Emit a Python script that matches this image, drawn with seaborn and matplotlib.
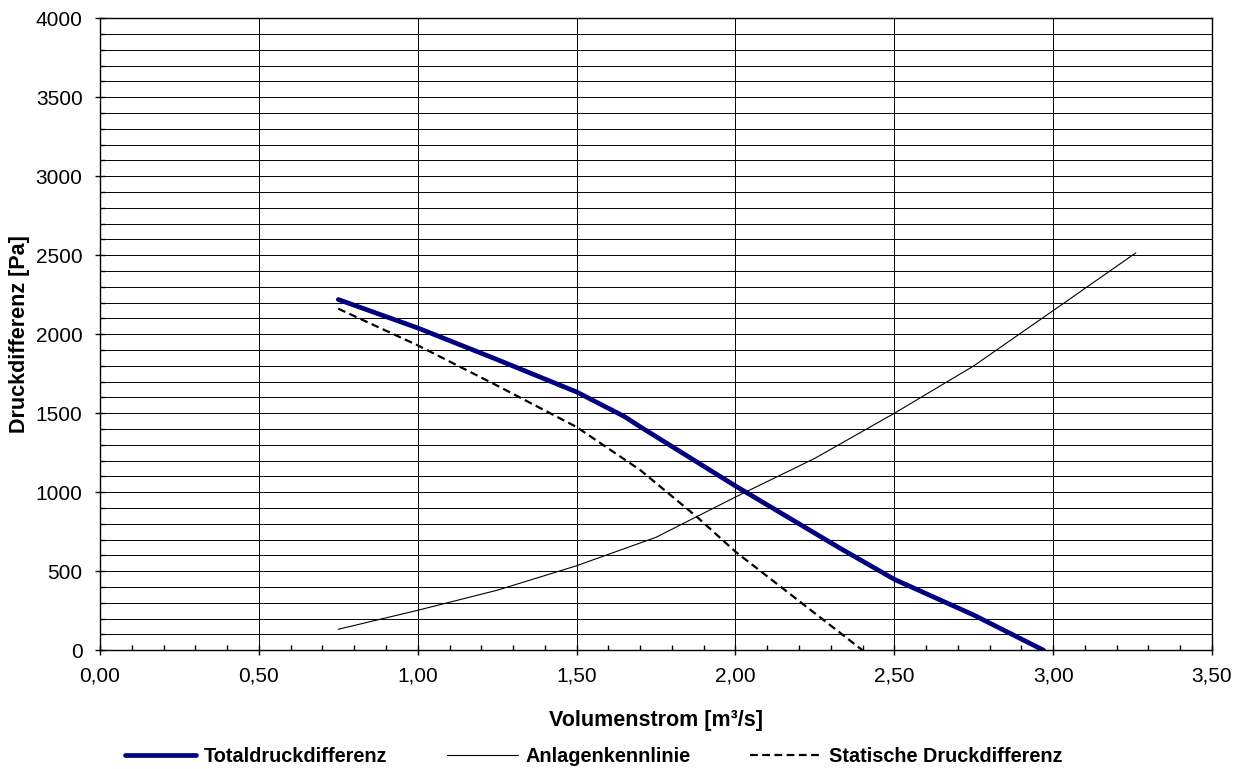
import matplotlib
matplotlib.use("Agg")
import matplotlib.pyplot as plt
from matplotlib.ticker import MultipleLocator, FuncFormatter
import pandas as pd
import seaborn as sns

# values
total_x = [0.75, 1.00, 1.25, 1.50, 1.65, 1.70, 2.00, 2.33, 2.50, 2.75, 2.97]
total_y = [2220, 2040, 1840, 1635, 1480, 1415, 1040, 645, 449, 223, 0]

anlage_x = [0.75, 1.00, 1.25, 1.50, 1.75, 2.00, 2.25, 2.50, 2.75, 3.00, 3.26]
anlage_y = [133, 253, 380, 535, 715, 970, 1215, 1500, 1800, 2150, 2515]

static_x = [0.75, 1.00, 1.25, 1.50, 1.70, 1.88, 2.00, 2.20, 2.40]
static_y = [2162, 1930, 1675, 1413, 1141, 842, 624, 312, 0]

labels = ["Totaldruckdifferenz", "Anlagenkennlinie", "Statische Druckdifferenz"]

sns.set_style("white")
plt.rcParams['font.family'] = ['Liberation Sans', 'DejaVu Sans']
plt.rcParams['text.color'] = 'black'

fig = plt.figure(figsize=(12.44, 7.69), dpi=100)
ax = fig.add_axes([0.0804, 0.1544, 0.8939, 0.8218])

df_total = pd.DataFrame({"x": total_x, "y": total_y})
df_anlage = pd.DataFrame({"x": anlage_x, "y": anlage_y})
df_static = pd.DataFrame({"x": static_x, "y": static_y})

sns.lineplot(data=df_total, x="x", y="y", ax=ax, color="#000080", linewidth=3.4,
             sort=False, label=labels[0], solid_capstyle="round")
sns.lineplot(data=df_anlage, x="x", y="y", ax=ax, color="black", linewidth=0.8,
             sort=False, label=labels[1])
sns.lineplot(data=df_static, x="x", y="y", ax=ax, color="black", linewidth=1.6,
             sort=False, label=labels[2])
ax.lines[2].set_dashes([3.5, 2])

ax.set_xlim(0, 3.5)
ax.set_ylim(0, 4000)

ax.xaxis.set_major_locator(MultipleLocator(0.5))
ax.xaxis.set_minor_locator(MultipleLocator(0.1))
ax.yaxis.set_major_locator(MultipleLocator(500))
ax.yaxis.set_minor_locator(MultipleLocator(100))
ax.xaxis.set_major_formatter(FuncFormatter(lambda v, p: f"{v:.2f}".replace(".", ",")))
ax.yaxis.set_major_formatter(FuncFormatter(lambda v, p: f"{v:.0f}"))

ax.grid(which="major", axis="x", color="black", linewidth=0.7)
ax.grid(which="both", axis="y", color="black", linewidth=0.7)
ax.set_axisbelow(True)

ax.tick_params(which="major", direction="inout", length=7.2, width=1, labelsize=15,
               color="black", labelcolor="black", bottom=True, left=True)
ax.tick_params(which="minor", direction="in", length=3.6, width=1, color="black",
               bottom=True, left=True)
ax.tick_params(axis="x", pad=8)
ax.tick_params(axis="y", pad=9)

for s in ax.spines.values():
    s.set_color("black")
    s.set_linewidth(1)

ax.set_xlabel("Volumenstrom [m³/s]", fontsize=15.5, fontweight="bold", labelpad=18,
              color="black")
ax.set_ylabel("Druckdifferenz [Pa]", fontsize=15.5, fontweight="bold", labelpad=4,
              color="black")

handles, labs = ax.get_legend_handles_labels()
ax.get_legend().remove()
leg = fig.legend(handles, labs, loc="center", bbox_to_anchor=(0.477, 0.016), ncol=3,
                 frameon=False, handlelength=3.6, handletextpad=0.36,
                 columnspacing=3.0, borderpad=0, prop={"size": 14.3, "weight": "bold"})
for t in leg.get_texts():
    t.set_color("black")

fig.savefig("out.png", dpi=100)
